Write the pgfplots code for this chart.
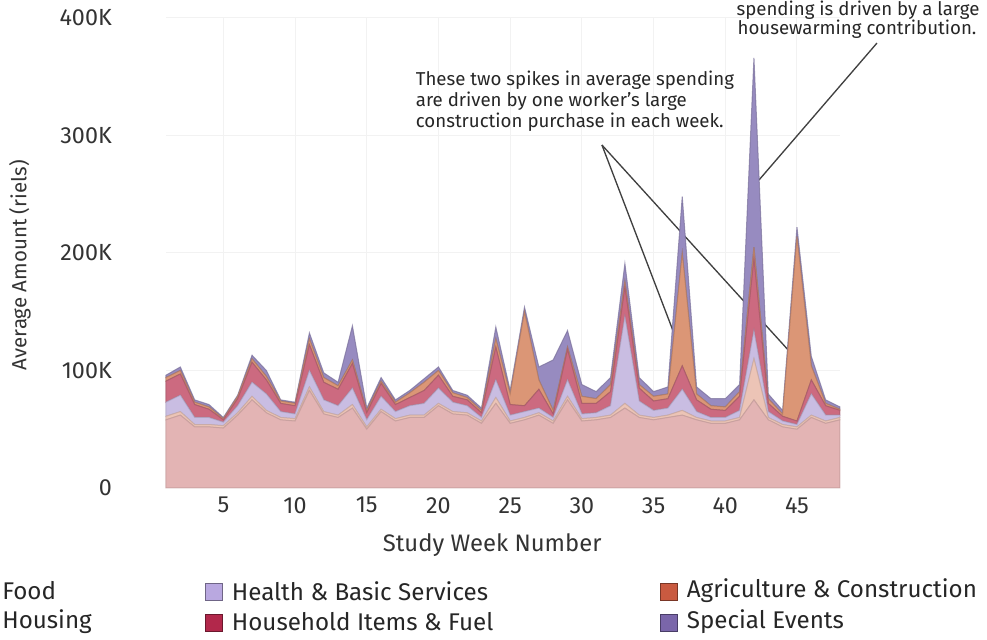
\documentclass[border=0pt]{standalone}
\usepackage{fontspec}
\setmainfont{Fira Sans}
\usepackage{pgfplots}
\usepackage{pgfplotstable}
\pgfplotsset{compat=1.18}

% band colours (as they look over white)
\definecolor{cFood}{HTML}{E3B4B4}
\definecolor{cHousing}{HTML}{ECC4B6}
\definecolor{cHealth}{HTML}{C9BDE2}
\definecolor{cHouse}{HTML}{CC6A80}
\definecolor{cAgri}{HTML}{DB9676}
\definecolor{cSpecial}{HTML}{978BC0}
% legend swatches
\definecolor{lFood}{HTML}{E3A6A6}
\definecolor{lHousing}{HTML}{E8B39E}
\definecolor{lHealth}{HTML}{B9A8E0}
\definecolor{lHouse}{HTML}{B2284B}
\definecolor{lAgri}{HTML}{C95A40}
\definecolor{lSpecial}{HTML}{7A66AA}

% average amount per week, thousands of riels
\pgfplotstableread{
week food housing health household agri special
1  58 3 12 18 3 2
2  62 3 14 18 3 3
3  52 2 6 11 2 2
4  52 2 6 7 2 2
5  51 2 3 2 1 1
6  62 2 6 6 2 1
7  75 3 12 17 3 3
8  64 2 14 12 3 5
9  58 2 5 7 2 1
10 57 2 4 7 2 1
11 83 3 14 22 5 5
12 63 2 10 15 4 4
13 60 2 8 14 3 3
14 68 3 14 21 3 29
15 50 2 6 6 2 2
16 65 2 11 11 2 3
17 57 2 6 6 2 2
18 60 2 8 7 4 2
19 60 2 10 11 7 3
20 70 2 13 11 4 3
21 63 2 8 5 3 2
22 62 2 6 5 2 2
23 55 2 3 4 2 2
24 72 5 15 28 7 10
25 55 2 5 9 9 3
26 58 2 5 5 80 4
27 62 2 4 16 8 11
28 55 2 3 3 3 43
29 75 3 14 26 2 14
30 57 2 4 9 6 10
31 58 2 4 8 4 6
32 60 2 8 12 6 6
33 68 4 74 25 5 15
34 60 2 12 11 3 6
35 58 2 6 8 4 4
36 60 2 6 8 4 6
37 62 4 18 20 96 48
38 58 2 5 10 5 6
39 55 2 3 7 3 6
40 55 2 3 6 3 7
41 58 2 6 12 4 6
42 75 35 24 61 10 161
43 58 2 5 7 4 4
44 52 2 3 4 2 3
45 50 2 2 3 157 8
46 60 2 18 12 12 8
47 55 2 5 8 2 3
48 58 2 2 4 1 2
}\spend

\begin{document}
\begin{tikzpicture}
\begin{axis}[
  scale only axis,
  width=404.4pt, height=282pt,
  xmin=1, xmax=48, ymin=0, ymax=400,
  stack plots=y,
  clip=false,
  axis line style={draw=none},
  major tick length=0pt,
  xtick={5,10,...,45},
  ytick={0,100,200,300,400},
  yticklabels={0,100K,200K,300K,400K},
  grid=major,
  grid style={black!5, line width=0.6pt},
  /pgf/number format/assume math mode=true,
  tick label style={font=\fontsize{14}{16}\selectfont, text=black!80},
  xticklabel style={yshift=-2pt},
  yticklabel style={xshift=-29pt},
  xlabel={Study Week Number},
  ylabel={Average Amount (riels)},
  label style={text=black!80},
  xlabel style={font=\fontsize{14.3}{16}\selectfont, at={(axis description cs:0.484,-0.121)}, anchor=center},
  ylabel style={font=\fontsize{12.3}{14}\selectfont, at={(axis description cs:-0.2166,0.474)}, anchor=center},
  every axis plot/.append style={line width=0.6pt, draw opacity=0.7},
]
\addplot[fill=cFood, draw=cFood!85!black] table[x=week,y=food]{\spend} \closedcycle;
\addplot[fill=cHousing, draw=cHousing!85!black] table[x=week,y=housing]{\spend} \closedcycle;
\addplot[fill=cHealth, draw=cHealth!85!black] table[x=week,y=health]{\spend} \closedcycle;
\addplot[fill=cHouse, draw=cHouse!80!black] table[x=week,y=household]{\spend} \closedcycle;
\addplot[fill=cAgri, draw=cAgri!80!black] table[x=week,y=agri]{\spend} \closedcycle;
\addplot[fill=cSpecial, draw=cSpecial!80!black] table[x=week,y=special]{\spend} \closedcycle;

% pointers of the annotations
\draw[black!75, line width=0.8pt] (axis cs:31.40,291.9) -- (axis cs:37.19,107.2);
\draw[black!75, line width=0.8pt] (axis cs:31.40,291.9) -- (axis cs:45.21,106.4);
\draw[black!75, line width=0.8pt] (axis cs:50.58,378.7) -- (axis cs:42.35,262.1);

\coordinate (O) at (axis cs:1,0);
\end{axis}

% picture coordinates in pixels of the reference, origin top left
\begin{scope}[shift={([xshift=-99.6pt,yshift=292.8pt]O)}, x=0.6pt, y=-0.6pt]
  \begin{scope}[font=\fontsize{11.2}{13}\selectfont, text=black!85]
    \node[anchor=west] at (410,80) {These two spikes in average spending};
    \node[anchor=west] at (410,101) {are driven by one worker's large};
    \node[anchor=west] at (410,122) {construction purchase in each week.};
    \node at (858,10) {spending is driven by a large};
    \node at (857,29) {housewarming contribution.};
  \end{scope}

  \begin{scope}[font=\fontsize{14.5}{16}\selectfont, text=black!85]
    \filldraw[fill=lFood, draw=lFood!60!black] (-45,583) rectangle (-28,600);
    \node[anchor=west, inner sep=0pt] at (2,591) {Food};
    \filldraw[fill=lHousing, draw=lHousing!60!black] (-45,614) rectangle (-28,631);
    \node[anchor=west, inner sep=0pt] at (2,622) {Housing};
    \filldraw[fill=lHealth, draw=lHealth!60!black] (205,583) rectangle (222,600);
    \node[anchor=west] at (226,591) {Health \& Basic Services};
    \filldraw[fill=lHouse, draw=lHouse!60!black] (205,614) rectangle (222,631);
    \node[anchor=west] at (226,622) {Household Items \& Fuel};
    \filldraw[fill=lAgri, draw=lAgri!60!black] (660,583) rectangle (677,600);
    \node[anchor=west] at (681,591) {Agriculture \& Construction};
    \filldraw[fill=lSpecial, draw=lSpecial!60!black] (660,614) rectangle (677,631);
    \node[anchor=west] at (681,622) {Special Events};
  \end{scope}

  \pgfresetboundingbox
  \path[use as bounding box] (0,0) rectangle (987,639);
\end{scope}
\end{tikzpicture}
\end{document}
